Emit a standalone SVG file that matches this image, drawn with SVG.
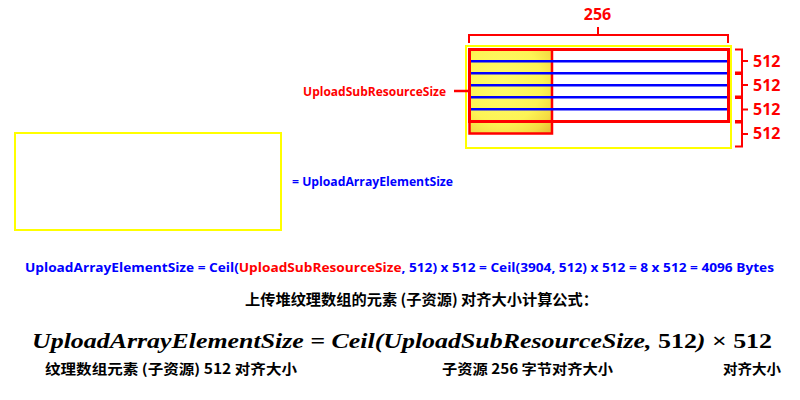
<svg xmlns="http://www.w3.org/2000/svg" width="800" height="400" viewBox="0 0 800 400">
<defs>
<radialGradient id="tex" cx="0.4" cy="0.4" r="0.8">
<stop offset="0" stop-color="#fffb6a"/>
<stop offset="0.6" stop-color="#fdf455"/>
<stop offset="0.85" stop-color="#f4dc42"/>
<stop offset="1" stop-color="#e8c234"/>
</radialGradient>
</defs>
<style>
.lat{font-family:"Open Sans","Liberation Sans",sans-serif;font-weight:bold}
.red{fill:#ff0000}
.blue{fill:#0000ff}
.cjk{font-family:"Noto Sans CJK SC",sans-serif;font-weight:bold;fill:#000}
.br{fill:none;stroke:#ff0000;stroke-width:2}
.bl{stroke:#0000ff;stroke-width:2.5}
.math{font-family:"Liberation Serif","DejaVu Serif",serif;font-style:italic;font-weight:bold;fill:#000}
</style>
<rect width="800" height="400" fill="#ffffff"/>
<g id="array-element">
<rect x="466" y="46" width="265" height="102" fill="none" stroke="#ffff00" stroke-width="2"/>
</g>
<g id="texture">
<rect x="469.5" y="49.5" width="82.5" height="84" fill="url(#tex)" stroke="#ff0000" stroke-width="2.5"/>
</g>
<g id="subresource">
<rect x="469.5" y="49.5" width="259" height="72" fill="none" stroke="#ff0000" stroke-width="3"/>
</g>
<g id="rows">
<line class="bl" x1="471" y1="61.3" x2="727" y2="61.3"/>
<line class="bl" x1="471" y1="73.3" x2="727" y2="73.3"/>
<line class="bl" x1="471" y1="85.3" x2="727" y2="85.3"/>
<line class="bl" x1="471" y1="97.3" x2="727" y2="97.3"/>
<line class="bl" x1="471" y1="109.3" x2="727" y2="109.3"/>
</g>
<g id="connectors">
<path class="br" d="M469,43 V35 H728 V43 M598,35 V27"/>
<path class="br" d="M735,49.5 H742 V72.5 H735 M742,61 H748"/>
<path class="br" d="M735,74 H742 V96.5 H735 M742,85 H748"/>
<path class="br" d="M735,98 H742 V121 H735 M742,109.5 H748"/>
<path class="br" d="M735,122.5 H742 V146.5 H735 M742,134 H748"/>
<line x1="454" y1="91" x2="468" y2="91" stroke="#ff0000" stroke-width="2.5"/>
</g>
<g id="labels">
<text class="lat red" x="597.5" y="20" font-size="16" text-anchor="middle">256</text>
<text class="lat red" x="753" y="67" font-size="16">512</text>
<text class="lat red" x="753" y="91" font-size="16">512</text>
<text class="lat red" x="753" y="115" font-size="16">512</text>
<text class="lat red" x="753" y="139" font-size="16">512</text>
<text class="lat red" x="446" y="96" font-size="12" text-anchor="end">UploadSubResourceSize</text>
</g>
<g id="upload-array-element">
<rect x="15" y="133" width="266" height="97" fill="none" stroke="#ffff00" stroke-width="2"/>
<text class="lat blue" x="292" y="186" font-size="12" textLength="161" lengthAdjust="spacingAndGlyphs">= UploadArrayElementSize</text>
</g>
<g id="formula">
<text class="lat blue" x="25" y="272" font-size="12.5" textLength="749" lengthAdjust="spacingAndGlyphs">UploadArrayElementSize = Ceil(<tspan class="red">UploadSubResourceSize</tspan>, 512) x 512 = Ceil(3904, 512) x 512 = 8 x 512 = 4096 Bytes</text>
<text class="cjk" x="245" y="305" font-size="15" textLength="353" lengthAdjust="spacingAndGlyphs">上传堆纹理数组的元素 (子资源) 对齐大小计算公式：</text>
<text class="math" x="32" y="348" font-size="21" textLength="740" lengthAdjust="spacingAndGlyphs">UploadArrayElementSize = Ceil(UploadSubResourceSize, <tspan font-style="normal">512</tspan>) <tspan font-style="normal">×</tspan> <tspan font-style="normal">512</tspan></text>
<text class="cjk" x="45" y="374" font-size="14" textLength="252" lengthAdjust="spacingAndGlyphs">纹理数组元素 (子资源) 512 对齐大小</text>
<text class="cjk" x="442" y="374" font-size="14" textLength="171" lengthAdjust="spacingAndGlyphs">子资源 256 字节对齐大小</text>
<text class="cjk" x="723" y="374" font-size="14" textLength="58" lengthAdjust="spacingAndGlyphs">对齐大小</text>
</g>
</svg>
